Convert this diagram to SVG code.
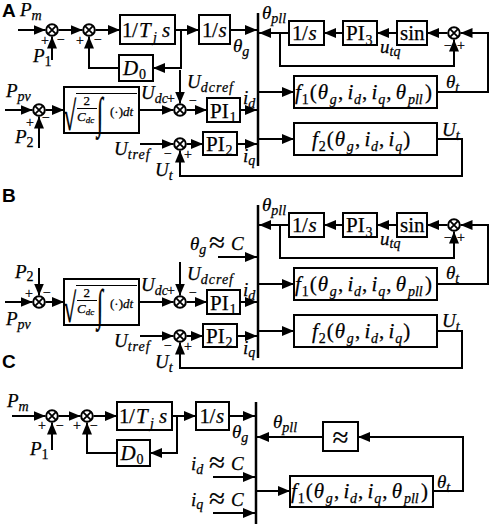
<svg xmlns="http://www.w3.org/2000/svg" width="491" height="524" viewBox="0 0 491 524">
<defs>
<marker id="ah" viewBox="0 0 12 10" refX="12" refY="5" markerWidth="12" markerHeight="10" markerUnits="userSpaceOnUse" orient="auto"><path d="M0,0 L12,5 L0,10 z" fill="#000"/></marker>
<style>
.ln{fill:none;stroke:#000;stroke-width:2;marker-end:url(#ah)}
.bx{fill:#fff;stroke:#000;stroke-width:2}
.sj circle{fill:#fff;stroke:#000;stroke-width:2}
.sj path{fill:none;stroke:#000;stroke-width:1.8}
.bus{stroke:#000;stroke-width:2.5}
.thin{stroke:#000;stroke-width:1}
text{font-family:"Liberation Serif","Times New Roman",serif;fill:#000;stroke:#000;stroke-width:0.25}
.l{font-size:19px;font-style:italic}
.s{font-size:14px;font-style:italic}
.n{font-size:14px;font-style:normal}
.bt{font-size:21px;font-style:normal}
.it{font-style:italic}
.ap{font-size:29px;font-style:normal}
.sg{font-size:14px;text-anchor:middle;font-style:normal}
.pn{font-family:"Liberation Sans",Arial,sans-serif;font-weight:bold;font-size:19px;stroke:none}
.sm{font-size:13px}
.ss{font-size:9px;font-style:italic}
</style>
</defs>

<!-- panel labels -->
<text class="pn" x="2" y="17">A</text>
<text class="pn" x="2" y="202">B</text>
<text class="pn" x="2" y="368">C</text>

<!-- ===================== PANEL A ===================== -->
<g id="connectors-A">
<path class="ln" d="M18,30 H45.5"/>
<path class="ln" d="M58.5,30 H82.5"/>
<path class="ln" d="M95.5,30 H120"/>
<path class="ln" d="M175,30 H199"/>
<path class="ln" d="M230,30 H257"/>
<path class="ln" d="M181,30 V68 H153"/>
<path class="ln" d="M119,68 H89 V36.5"/>
<path class="ln" d="M52,60 V36.5"/>
<path class="ln" d="M5,110 H32.5"/>
<path class="ln" d="M39,148 V116.5"/>
<path class="ln" d="M45.5,110 H64"/>
<path class="ln" d="M139,110 H173.5"/>
<path class="ln" d="M180,70 V103.5"/>
<path class="ln" d="M186.5,110 H207"/>
<path class="ln" d="M240,110 H257"/>
<path class="ln" d="M140,144 H173.5"/>
<path class="ln" d="M186.5,144 H203"/>
<path class="ln" d="M237,144 H257"/>
<path class="ln" d="M437,139 H462 V176 H180 V150.5"/>
<path class="ln" d="M258,92 H294"/>
<path class="ln" d="M258,139 H294"/>
<path class="ln" d="M437,92 H488 V33 H460.5"/>
<path class="ln" d="M447.5,33 H427"/>
<path class="ln" d="M397,33 H377"/>
<path class="ln" d="M343,33 H324"/>
<path class="ln" d="M289,33 H259"/>
<path class="ln" d="M280,33 V66 H454 V39.5"/>
</g>

<g id="A_bus"><line class="bus" x1="258" y1="13" x2="258" y2="166"/></g>
<g id="A_sum1" class="sj"><circle cx="52" cy="30" r="5.8"/><path d="M47.9,25.9 L56.1,34.1 M56.1,25.9 L47.9,34.1"/></g>
<g id="A_sum2" class="sj"><circle cx="89" cy="30" r="5.8"/><path d="M84.9,25.9 L93.1,34.1 M93.1,25.9 L84.9,34.1"/></g>
<g id="A_Tj"><rect class="bx" x="120" y="15" width="55" height="29"/>
<text class="bt" y="37"><tspan x="122">1</tspan><tspan x="132">/</tspan><tspan class="it" x="139">T</tspan><tspan class="s" x="153" y="42">j</tspan><tspan class="it" x="162" y="37">s</tspan></text></g>
<g id="A_int"><rect class="bx" x="199" y="15" width="31" height="29"/>
<text class="bt" y="37"><tspan x="202">1</tspan><tspan x="212">/</tspan><tspan class="it" x="218.5">s</tspan></text></g>
<g id="A_D0"><rect class="bx" x="119" y="55" width="34" height="26"/>
<text class="bt" y="75"><tspan class="it" x="123">D</tspan><tspan class="n" x="139" y="79">0</tspan></text></g>
<g id="A_sumP" class="sj"><circle cx="39" cy="110" r="5.8"/><path d="M34.9,105.9 L43.1,114.1 M43.1,105.9 L34.9,114.1"/></g>
<g id="A_sqrt"><rect class="bx" x="64" y="87" width="75" height="46"/>
<text transform="translate(63,130) scale(1,1.7)" font-size="24">√</text>
<line class="thin" x1="76" y1="93.5" x2="137" y2="93.5" stroke-width="1.3"/>
<text class="sm" x="83.5" y="105">2</text>
<line class="thin" x1="77" y1="108.5" x2="97" y2="108.5"/>
<text class="sm it" x="77" y="121">C<tspan class="ss" dy="2">dc</tspan></text>
<text transform="translate(97,128) scale(1,2)" font-size="22">∫</text>
<text class="sm" x="110" y="116">(·)<tspan class="it">dt</tspan></text></g>
<g id="A_sumU" class="sj"><circle cx="180" cy="110" r="5.8"/><path d="M175.9,105.9 L184.1,114.1 M184.1,105.9 L175.9,114.1"/></g>
<g id="A_PI1"><rect class="bx" x="207" y="98" width="33" height="24"/>
<text class="bt" y="118"><tspan x="210">PI</tspan><tspan class="n" x="229.5" y="122">1</tspan></text></g>
<g id="A_sumUt" class="sj"><circle cx="180" cy="144" r="5.8"/><path d="M175.9,139.9 L184.1,148.1 M184.1,139.9 L175.9,148.1"/></g>
<g id="A_PI2"><rect class="bx" x="203" y="132" width="34" height="23"/>
<text class="bt" y="151"><tspan x="206">PI</tspan><tspan class="n" x="225.5" y="155">2</tspan></text></g>
<g id="A_pllint"><rect class="bx" x="289" y="21" width="35" height="24"/>
<text class="bt" y="40"><tspan x="292">1</tspan><tspan x="302">/</tspan><tspan class="it" x="308.5">s</tspan></text></g>
<g id="A_PI3"><rect class="bx" x="343" y="21" width="34" height="24"/>
<text class="bt" y="40"><tspan x="346">PI</tspan><tspan class="n" x="365.5" y="45">3</tspan></text></g>
<g id="A_sin"><rect class="bx" x="397" y="21" width="30" height="24"/>
<text class="bt" x="400" y="40">sin</text></g>
<g id="A_sumPLL" class="sj"><circle cx="454" cy="33" r="5.8"/><path d="M449.9,28.9 L458.1,37.1 M458.1,28.9 L449.9,37.1"/></g>
<g id="A_f1"><rect class="bx" x="294" y="76" width="143" height="32"/>
<text class="bt"><tspan class="it" x="295" y="99">f</tspan><tspan class="n" x="301.7" y="104">1</tspan><tspan x="309.7" y="99">(</tspan><tspan class="it" x="317.8" y="99">θ</tspan><tspan class="s" x="329.8" y="104">g</tspan><tspan x="337.9" y="99">,</tspan><tspan class="it" x="347.4" y="99">i</tspan><tspan class="s" x="354" y="104">d</tspan><tspan x="362.1" y="99">,</tspan><tspan class="it" x="371.6" y="99">i</tspan><tspan class="s" x="378.3" y="104">q</tspan><tspan x="386.3" y="99">,</tspan><tspan class="it" x="395.8" y="99">θ</tspan><tspan class="s" x="407.9" y="104">pll</tspan><tspan x="424.9" y="99">)</tspan></text></g>
<g id="A_f2"><rect class="bx" x="294" y="123" width="143" height="32"/>
<text class="bt"><tspan class="it" x="312" y="146">f</tspan><tspan class="n" x="318.7" y="151">2</tspan><tspan x="326.7" y="146">(</tspan><tspan class="it" x="334.8" y="146">θ</tspan><tspan class="s" x="346.8" y="151">g</tspan><tspan x="354.9" y="146">,</tspan><tspan class="it" x="364.4" y="146">i</tspan><tspan class="s" x="371" y="151">d</tspan><tspan x="379.1" y="146">,</tspan><tspan class="it" x="388.6" y="146">i</tspan><tspan class="s" x="395.3" y="151">q</tspan><tspan x="403.3" y="146">)</tspan></text></g>

<g id="A_labels">
<text class="l" x="20" y="16">P<tspan class="s" dy="4">m</tspan></text>
<text class="sg" x="45" y="44.5">+</text><text class="sg" x="61" y="43.5">−</text>
<text class="sg" x="80" y="44.5">+</text><text class="sg" x="98" y="43.5">−</text>
<text class="l" x="33" y="62">P<tspan class="n" dy="4">1</tspan></text>
<text class="l" x="233" y="52">θ<tspan class="s" dy="4">g</tspan></text>
<text class="l" x="262" y="19">θ<tspan class="s" dy="4">pll</tspan></text>
<text class="l" x="380" y="53">u<tspan class="s" dy="3">tq</tspan></text>
<text class="sg" x="448" y="49.5">−</text><text class="sg" x="461" y="49.5">+</text>
<text class="l" x="446" y="88">θ<tspan class="s" dy="4">t</tspan></text>
<text class="l" x="442" y="136">U<tspan class="s" dy="4">t</tspan></text>
<text class="l" x="6" y="97">P<tspan class="s" dy="4">pv</tspan></text>
<text class="sg" x="30" y="126.5">+</text><text class="sg" x="46" y="121.5">−</text>
<text class="l" x="15" y="143">P<tspan class="n" dy="4">2</tspan></text>
<text class="l" x="141" y="99">U<tspan class="s" dy="4">dc</tspan></text>
<text class="sg" x="171" y="102.5">+</text><text class="sg" x="193" y="104.5">−</text>
<text class="l" x="187" y="88">U<tspan class="s" dy="4" letter-spacing="1">dcref</tspan></text>
<text class="l" x="243" y="104">i<tspan class="s" dy="4">d</tspan></text>
<text class="l" x="114" y="155">U<tspan class="s" dy="4" letter-spacing="1">tref</tspan></text>
<text class="sg" x="168" y="157.5">−</text><text class="sg" x="188" y="158.5">+</text>
<text class="l" x="155" y="176">U<tspan class="s" dy="4">t</tspan></text>
<text class="l" x="243" y="162">i<tspan class="s" dy="3">q</tspan></text>
</g>

<!-- ===================== PANEL B ===================== -->
<g id="connectors-B">
<path class="ln" d="M39,268 V295.5"/>
<path class="ln" d="M5,302 H32.5"/>
<path class="ln" d="M45.5,302 H64"/>
<path class="ln" d="M139,302 H173.5"/>
<path class="ln" d="M180,262 V295.5"/>
<path class="ln" d="M186.5,302 H207"/>
<path class="ln" d="M240,302 H257"/>
<path class="ln" d="M140,336 H173.5"/>
<path class="ln" d="M186.5,336 H203"/>
<path class="ln" d="M237,336 H257"/>
<path class="ln" d="M218,257 H257"/>
<path class="ln" d="M437,331 H462 V368 H180 V342.5"/>
<path class="ln" d="M258,284 H294"/>
<path class="ln" d="M258,331 H294"/>
<path class="ln" d="M437,284 H488 V225 H460.5"/>
<path class="ln" d="M447.5,225 H427"/>
<path class="ln" d="M397,225 H377"/>
<path class="ln" d="M343,225 H324"/>
<path class="ln" d="M289,225 H259"/>
<path class="ln" d="M280,225 V258 H454 V231.5"/>
</g>
<g id="B_bus"><line class="bus" x1="258" y1="205" x2="258" y2="358"/></g>
<g id="B_sumP" class="sj"><circle cx="39" cy="302" r="5.8"/><path d="M34.9,297.9 L43.1,306.1 M43.1,297.9 L34.9,306.1"/></g>
<g id="B_sqrt" transform="translate(0,192)"><rect class="bx" x="64" y="87" width="75" height="46"/>
<text transform="translate(63,130) scale(1,1.7)" font-size="24">√</text>
<line class="thin" x1="76" y1="93.5" x2="137" y2="93.5" stroke-width="1.3"/>
<text class="sm" x="83.5" y="105">2</text>
<line class="thin" x1="77" y1="108.5" x2="97" y2="108.5"/>
<text class="sm it" x="77" y="121">C<tspan class="ss" dy="2">dc</tspan></text>
<text transform="translate(97,128) scale(1,2)" font-size="22">∫</text>
<text class="sm" x="110" y="116">(·)<tspan class="it">dt</tspan></text></g>
<g id="B_sumU" class="sj"><circle cx="180" cy="302" r="5.8"/><path d="M175.9,297.9 L184.1,306.1 M184.1,297.9 L175.9,306.1"/></g>
<g id="B_PI1"><rect class="bx" x="207" y="290" width="33" height="24"/>
<text class="bt" y="310"><tspan x="210">PI</tspan><tspan class="n" x="229.5" y="314">1</tspan></text></g>
<g id="B_sumUt" class="sj"><circle cx="180" cy="336" r="5.8"/><path d="M175.9,331.9 L184.1,340.1 M184.1,331.9 L175.9,340.1"/></g>
<g id="B_PI2"><rect class="bx" x="203" y="324" width="34" height="23"/>
<text class="bt" y="343"><tspan x="206">PI</tspan><tspan class="n" x="225.5" y="347">2</tspan></text></g>
<g id="B_pllint"><rect class="bx" x="289" y="213" width="35" height="24"/>
<text class="bt" y="232"><tspan x="292">1</tspan><tspan x="302">/</tspan><tspan class="it" x="308.5">s</tspan></text></g>
<g id="B_PI3"><rect class="bx" x="343" y="213" width="34" height="24"/>
<text class="bt" y="232"><tspan x="346">PI</tspan><tspan class="n" x="365.5" y="237">3</tspan></text></g>
<g id="B_sin"><rect class="bx" x="397" y="213" width="30" height="24"/>
<text class="bt" x="400" y="232">sin</text></g>
<g id="B_sumPLL" class="sj"><circle cx="454" cy="225" r="5.8"/><path d="M449.9,220.9 L458.1,229.1 M458.1,220.9 L449.9,229.1"/></g>
<g id="B_f1"><rect class="bx" x="294" y="268" width="143" height="32"/>
<text class="bt"><tspan class="it" x="295" y="291">f</tspan><tspan class="n" x="301.7" y="296">1</tspan><tspan x="309.7" y="291">(</tspan><tspan class="it" x="317.8" y="291">θ</tspan><tspan class="s" x="329.8" y="296">g</tspan><tspan x="337.9" y="291">,</tspan><tspan class="it" x="347.4" y="291">i</tspan><tspan class="s" x="354" y="296">d</tspan><tspan x="362.1" y="291">,</tspan><tspan class="it" x="371.6" y="291">i</tspan><tspan class="s" x="378.3" y="296">q</tspan><tspan x="386.3" y="291">,</tspan><tspan class="it" x="395.8" y="291">θ</tspan><tspan class="s" x="407.9" y="296">pll</tspan><tspan x="424.9" y="291">)</tspan></text></g>
<g id="B_f2"><rect class="bx" x="294" y="315" width="143" height="32"/>
<text class="bt"><tspan class="it" x="312" y="338">f</tspan><tspan class="n" x="318.7" y="343">2</tspan><tspan x="326.7" y="338">(</tspan><tspan class="it" x="334.8" y="338">θ</tspan><tspan class="s" x="346.8" y="343">g</tspan><tspan x="354.9" y="338">,</tspan><tspan class="it" x="364.4" y="338">i</tspan><tspan class="s" x="371" y="343">d</tspan><tspan x="379.1" y="338">,</tspan><tspan class="it" x="388.6" y="338">i</tspan><tspan class="s" x="395.3" y="343">q</tspan><tspan x="403.3" y="338">)</tspan></text></g>

<g id="B_labels">
<text class="l" x="190" y="250">θ<tspan class="s" dy="4">g</tspan><tspan class="ap" x="209" y="252">≈</tspan><tspan x="231" y="250">C</tspan></text>
<text class="l" x="262" y="211">θ<tspan class="s" dy="4">pll</tspan></text>
<text class="l" x="380" y="245">u<tspan class="s" dy="3">tq</tspan></text>
<text class="sg" x="448" y="241.5">−</text><text class="sg" x="461" y="241.5">+</text>
<text class="l" x="446" y="279">θ<tspan class="s" dy="4">t</tspan></text>
<text class="l" x="442" y="327">U<tspan class="s" dy="4">t</tspan></text>
<text class="l" x="15" y="278">P<tspan class="n" dy="3">2</tspan></text>
<text class="sg" x="29" y="298">+</text><text class="sg" x="47" y="297">−</text>
<text class="l" x="6" y="325">P<tspan class="s" dy="4">pv</tspan></text>
<text class="l" x="141" y="291">U<tspan class="s" dy="4">dc</tspan></text>
<text class="sg" x="171" y="294.5">+</text><text class="sg" x="193" y="296.5">−</text>
<text class="l" x="187" y="280">U<tspan class="s" dy="4" letter-spacing="1">dcref</tspan></text>
<text class="l" x="243" y="296">i<tspan class="s" dy="4">d</tspan></text>
<text class="l" x="114" y="347">U<tspan class="s" dy="4" letter-spacing="1">tref</tspan></text>
<text class="sg" x="168" y="349.5">−</text><text class="sg" x="188" y="350.5">+</text>
<text class="l" x="155" y="368">U<tspan class="s" dy="4">t</tspan></text>
<text class="l" x="243" y="354">i<tspan class="s" dy="3">q</tspan></text>
</g>

<!-- ===================== PANEL C ===================== -->
<g id="connectors-C">
<path class="ln" d="M12,416 H45.5"/>
<path class="ln" d="M58.5,416 H80.5"/>
<path class="ln" d="M93.5,416 H117"/>
<path class="ln" d="M172,416 H196"/>
<path class="ln" d="M229,416 H255"/>
<path class="ln" d="M177,416 V453 H150"/>
<path class="ln" d="M117,453 H87 V422.5"/>
<path class="ln" d="M52,450 V422.5"/>
<path class="ln" d="M213,477 H255"/>
<path class="ln" d="M213,513 H255"/>
<path class="ln" d="M433,491 H463 V437 H358"/>
<path class="ln" d="M323,437 H257"/>
<path class="ln" d="M256,491 H290"/>
</g>
<g id="C_bus"><line class="bus" x1="256" y1="402" x2="256" y2="524"/></g>
<g id="C_sum1" class="sj"><circle cx="52" cy="416" r="5.8"/><path d="M47.9,411.9 L56.1,420.1 M56.1,411.9 L47.9,420.1"/></g>
<g id="C_sum2" class="sj"><circle cx="87" cy="416" r="5.8"/><path d="M82.9,411.9 L91.1,420.1 M91.1,411.9 L82.9,420.1"/></g>
<g id="C_Tj"><rect class="bx" x="117" y="402" width="55" height="28"/>
<text class="bt" y="423"><tspan x="119">1</tspan><tspan x="129">/</tspan><tspan class="it" x="136">T</tspan><tspan class="s" x="150" y="428">j</tspan><tspan class="it" x="159" y="423">s</tspan></text></g>
<g id="C_int"><rect class="bx" x="196" y="402" width="33" height="28"/>
<text class="bt" y="423"><tspan x="199.5">1</tspan><tspan x="209.5">/</tspan><tspan class="it" x="216">s</tspan></text></g>
<g id="C_D0"><rect class="bx" x="117" y="440" width="33" height="26"/>
<text class="bt" y="460"><tspan class="it" x="120.5">D</tspan><tspan class="n" x="136.5" y="464">0</tspan></text></g>
<g id="C_approx"><rect class="bx" x="323" y="422" width="35" height="29"/>
<text class="ap" x="340.5" y="447" text-anchor="middle">≈</text></g>
<g id="C_f1"><rect class="bx" x="290" y="476" width="143" height="31"/>
<text class="bt"><tspan class="it" x="291" y="498">f</tspan><tspan class="n" x="297.7" y="503">1</tspan><tspan x="305.7" y="498">(</tspan><tspan class="it" x="313.8" y="498">θ</tspan><tspan class="s" x="325.8" y="503">g</tspan><tspan x="333.9" y="498">,</tspan><tspan class="it" x="343.4" y="498">i</tspan><tspan class="s" x="350" y="503">d</tspan><tspan x="358.1" y="498">,</tspan><tspan class="it" x="367.6" y="498">i</tspan><tspan class="s" x="374.3" y="503">q</tspan><tspan x="382.3" y="498">,</tspan><tspan class="it" x="391.8" y="498">θ</tspan><tspan class="s" x="403.9" y="503">pll</tspan><tspan x="420.9" y="498">)</tspan></text></g>

<g id="C_labels">
<text class="l" x="7" y="407">P<tspan class="s" dy="4">m</tspan></text>
<text class="sg" x="42" y="429.5">+</text><text class="sg" x="60" y="429.5">−</text>
<text class="sg" x="77" y="429.5">+</text><text class="sg" x="94" y="429.5">−</text>
<text class="l" x="30" y="455">P<tspan class="n" dy="4">1</tspan></text>
<text class="l" x="232" y="438">θ<tspan class="s" dy="4">g</tspan></text>
<text class="l" x="191" y="470">i<tspan class="s" dy="4">d</tspan><tspan class="ap" x="209" y="472">≈</tspan><tspan x="231" y="470">C</tspan></text>
<text class="l" x="191" y="506">i<tspan class="s" dy="3">q</tspan><tspan class="ap" x="209" y="508">≈</tspan><tspan x="231" y="506">C</tspan></text>
<text class="l" x="273" y="428">θ<tspan class="s" dy="4">pll</tspan></text>
<text class="l" x="437" y="488">θ<tspan class="s" dy="4">t</tspan></text>
</g>
</svg>
